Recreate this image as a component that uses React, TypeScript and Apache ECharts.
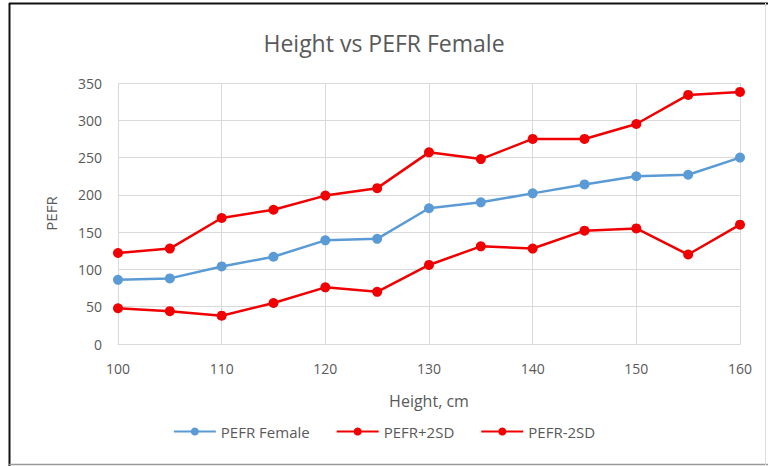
import React, { useEffect, useRef } from "react";
import * as echarts from "echarts";

const heights = [100, 105, 110, 115, 120, 125, 130, 135, 140, 145, 150, 155, 160];
const pefrFemale = [86, 88, 104, 117, 139, 141, 182, 190, 202, 214, 225, 227, 250];
const pefrPlus2SD = [122, 128, 169, 180, 199, 209, 257, 248, 275, 275, 295, 334, 338];
const pefrMinus2SD = [48, 44, 38, 55, 76, 70, 106, 131, 128, 152, 155, 120, 160];
const seriesNames = ["PEFR Female", "PEFR+2SD", "PEFR-2SD"];
const seriesColors = ["#5B9BD5", "#F00000", "#F00000"];

const font = "'Open Sans', sans-serif";

export default function App() {
  const ref = useRef<HTMLDivElement>(null);
  useEffect(() => {
    const chart = echarts.init(ref.current!, null, { renderer: "svg" });
    const data = [pefrFemale, pefrPlus2SD, pefrMinus2SD];
    chart.setOption({
      animation: false,
      backgroundColor: "#ffffff",
      title: {
        text: "Height vs PEFR Female",
        left: "center",
        top: 26,
        textStyle: { fontFamily: font, fontSize: 23, fontWeight: "normal", color: "#595959" },
      },
      legend: {
        bottom: 22,
        left: "center",
        itemWidth: 42,
        itemHeight: 10,
        itemGap: 26,
        textStyle: { fontFamily: font, fontSize: 15, color: "#595959" },
        data: seriesNames,
      },
      grid: { left: 118, right: 28, top: 83, bottom: 122 },
      xAxis: {
        type: "value",
        min: 100,
        max: 160,
        interval: 10,
        name: "Height, cm",
        nameLocation: "middle",
        nameGap: 49,
        nameTextStyle: { fontFamily: font, fontSize: 16, color: "#595959" },
        axisLine: { lineStyle: { color: "#D9D9D9" } },
        axisTick: { show: false },
        axisLabel: { fontFamily: font, fontSize: 14, color: "#595959", margin: 17 },
        splitLine: { show: true, lineStyle: { color: "#D9D9D9" } },
      },
      yAxis: {
        type: "value",
        min: 0,
        max: 350,
        interval: 50,
        name: "PEFR",
        nameLocation: "middle",
        nameGap: 60,
        nameTextStyle: { fontFamily: font, fontSize: 15, color: "#595959" },
        axisLine: { show: false },
        axisTick: { show: false },
        axisLabel: { fontFamily: font, fontSize: 14, color: "#595959", margin: 16 },
        splitLine: { show: true, lineStyle: { color: "#D9D9D9" } },
      },
      graphic: [
        { type: "line", shape: { x1: 9.5, y1: 3, x2: 9.5, y2: 466 }, style: { stroke: "#111", lineWidth: 2 } },
        { type: "line", shape: { x1: 9, y1: 3.5, x2: 768, y2: 3.5 }, style: { stroke: "#111", lineWidth: 2 } },
        { type: "line", shape: { x1: 9, y1: 464.5, x2: 768, y2: 464.5 }, style: { stroke: "#999", lineWidth: 1.5 } },
        { type: "line", shape: { x1: 765.5, y1: 3, x2: 765.5, y2: 466 }, style: { stroke: "#ddd", lineWidth: 1 } },
      ],
      series: seriesNames.map((name, i) => ({
        name,
        type: "line",
        data: heights.map((h, j) => [h, data[i][j]]),
        symbol: "circle",
        symbolSize: 10,
        lineStyle: { color: seriesColors[i], width: 2.5 },
        itemStyle: { color: seriesColors[i] },
      })),
    });
    return () => chart.dispose();
  }, []);
  return (
    <div
      ref={ref}
      style={{ position: "absolute", left: 0, top: 0, width: 768, height: 466 }}
    />
  );
}
